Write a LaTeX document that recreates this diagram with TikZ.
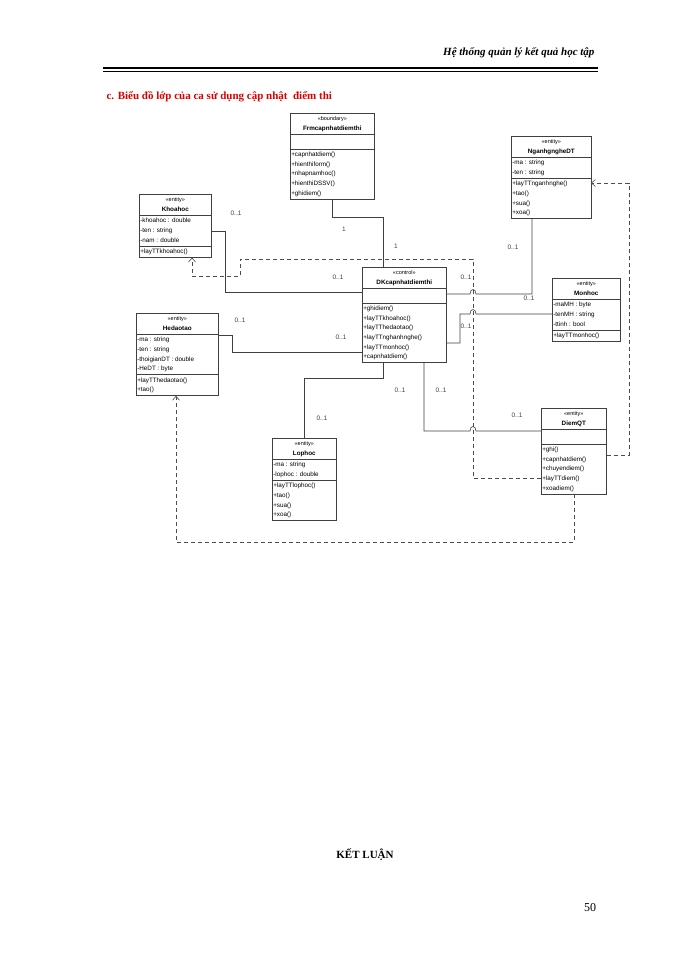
\documentclass[tikz,border=0pt]{standalone}
\usepackage{fontspec}
\setmainfont{Liberation Serif}
\newfontfamily\umlfont{Liberation Sans}
\usetikzlibrary{shapes.multipart,calc,arrows.meta}
\newcommand{\umlcc}[1]{\begin{tabular}{@{}c@{}}#1\end{tabular}}
\newcommand{\umlll}[1]{\begin{tabular}{@{}l@{}}#1\end{tabular}}
\newcommand{\umlemp}{\rule{0pt}{13pt}}
\newcommand{\stp}[1]{{\fontsize{5.5}{7}\selectfont«#1»}}
\begin{document}
\begin{tikzpicture}[x=1pt,y=-1pt,
  cls/.style={rectangle split,rectangle split parts=3,draw=black!75,line width=0.6pt,
    rectangle split part align={center,left,left},anchor=north west,
    inner xsep=1pt,inner ysep=0.6pt,font=\umlfont\fontsize{6.3}{9.6}\selectfont},
  assoc/.style={draw=black!75,line width=0.6pt},
  dep/.style={draw=black!70,line width=0.6pt,dash pattern=on 4pt off 3pt,-{Straight Barb[length=4pt,width=7pt]}},
  mult/.style={font=\umlfont\fontsize{6.5}{8}\selectfont,text=black!75,inner sep=0pt}]
\useasboundingbox (0,0) rectangle (700,960);
% page header
\node[anchor=east,font=\bfseries\itshape\fontsize{11}{13}\selectfont] (hdr) at (598,53) {Hệ thống quản lý kết quả học tập};
\draw[line width=1.6pt] (103,68) -- (598,68);
\draw[line width=0.5pt] (103,71) -- (598,71);
\node[anchor=west,text=red!85!black,font=\bfseries\fontsize{11}{13}\selectfont] (ttl) at (103,97) {c. Biểu đồ lớp của ca sử dụng cập nhật\ \ điểm thi};
\node[font=\bfseries\fontsize{11}{13}\selectfont] (kl) at (365,855) {KẾT LUẬN};
\node[font=\fontsize{12}{14}\selectfont] (pg) at (590,908) {50};

\node[cls,minimum width=84pt] (frm) at (290,113) {\umlcc{\stp{boundary}\\\textbf{Frmcapnhatdiemthi}}
 \nodepart{two}\umlemp
 \nodepart{three}\umlll{+capnhatdiem()\\+hienthiform()\\+nhapnamhoc()\\+hienthiDSSV()\\+ghidiem()}};
\node[cls,minimum width=72pt] (kh) at (139,194) {\umlcc{\stp{entity}\\\textbf{Khoahoc}}
 \nodepart{two}\umlll{-khoahoc : double\\-ten : string\\-nam : double}
 \nodepart{three}\umlll{+layTTkhoahoc()}};
\node[cls,minimum width=80pt] (ng) at (511,136) {\umlcc{\stp{entity}\\\textbf{NganhgngheDT}}
 \nodepart{two}\umlll{-ma : string\\-ten : string}
 \nodepart{three}\umlll{+layTTnganhnghe()\\+tao()\\+sua()\\+xoa()}};
\node[cls,minimum width=84pt] (dk) at (362,267) {\umlcc{\stp{control}\\\textbf{DKcapnhatdiemthi}}
 \nodepart{two}\umlemp
 \nodepart{three}\umlll{+ghidiem()\\+layTTkhoahoc()\\+layTThedaotao()\\+layTTnghanhnghe()\\+layTTmonhoc()\\+capnhatdiem()}};
\node[cls,minimum width=68pt] (mh) at (552,278) {\umlcc{\stp{entity}\\\textbf{Monhoc}}
 \nodepart{two}\umlll{-maMH : byte\\-tenMH : string\\-ttinh : bool}
 \nodepart{three}\umlll{+layTTmonhoc()}};
\node[cls,minimum width=82pt] (hd) at (136,313) {\umlcc{\stp{entity}\\\textbf{Hedaotao}}
 \nodepart{two}\umlll{-ma : string\\-ten : string\\-thoigianDT : double\\-HeDT : byte}
 \nodepart{three}\umlll{+layTThedaotao()\\+tao()}};
\node[cls,minimum width=64pt] (lh) at (272,438) {\umlcc{\stp{entity}\\\textbf{Lophoc}}
 \nodepart{two}\umlll{-ma : string\\-lophoc : double}
 \nodepart{three}\umlll{+layTTlophoc()\\+tao()\\+sua()\\+xoa()}};
\node[cls,minimum width=65pt] (dq) at (541,408) {\umlcc{\stp{entity}\\\textbf{DiemQT}}
 \nodepart{two}\umlemp
 \nodepart{three}\umlll{+ghi()\\+capnhatdiem()\\+chuyendiem()\\+layTTdiem()\\+xoadiem()}};

% coordinates
\coordinate (dkN) at ($(dk.north west)+(21,0)$);
\coordinate (dkB1) at ($(dk.south west)+(21,0)$);
\coordinate (dkB2) at ($(dk.south west)+(62,0)$);
\coordinate (khR) at ($(kh.north east)+(0,37)$);
\coordinate (hdR) at ($(hd.north east)+(0,22)$);
\coordinate (mhL) at ($(mh.north west)+(0,36)$);
\coordinate (ngB) at ($(ng.south west)+(21,0)$);
\coordinate (dqL) at ($(dq.north west)+(0,23)$);
\coordinate (dqL2) at ($(dq.north west)+(0,70)$);
\coordinate (dqR) at ($(dq.north east)+(0,47)$);
\coordinate (dqB) at ($(dq.south west)+(33,0)$);
\coordinate (ngR) at ($(ng.north west)+(80,47)$);
\coordinate (khB) at ($(kh.south west)+(53,0)$);
\coordinate (hdB) at ($(hd.south west)+(40,0)$);

% solid associations
\draw[assoc] (frm.south) -- ++(0,18) -| (dkN);
\draw[assoc] (khR) -- ++(14,0) |- (dk.west |- 0,292);
\draw[assoc] (hdR) -- ++(14,0) |- (dk.west |- 0,352);
\draw[assoc] (ngB) |- (476,294) .. controls (476,288) and (470,288) .. (470,294) -- (dk.east |- 0,294);
\draw[assoc] (mhL) -- (476,314) .. controls (476,308) and (470,308) .. (470,314) -- (460,314) |- (dk.east |- 0,343);
\draw[assoc] (dkB1) -- ++(0,15) -| ($(lh.north west)+(32,0)$);
\draw[assoc] (dkB2) |- (470,431) .. controls (470,425) and (476,425) .. (476,431) -- (dqL);

% dependencies
\draw[dep] (dqB) |- (176,542) -- (hdB);
\draw[dep] (dqL2) -- (473,478) -- (473,259) -- (240,259) -- (240,276) -- (192,276) -- (khB);
\draw[dep] (dqR) -- (629,455) |- (ngR);

% multiplicities
\node[mult] (m1) at (344,229) {1};
\node[mult] (m2) at (396,246) {1};
\node[mult] (m3) at (236,213) {0..1};
\node[mult] (m4) at (338,277) {0..1};
\node[mult] (m5) at (513,247) {0..1};
\node[mult] (m6) at (529,298) {0..1};
\node[mult] (m7) at (466,277) {0..1};
\node[mult] (m8) at (466,326) {0..1};
\node[mult] (m9) at (240,320) {0..1};
\node[mult] (m10) at (341,337) {0..1};
\node[mult] (m11) at (400,390) {0..1};
\node[mult] (m12) at (322,418) {0..1};
\node[mult] (m13) at (441,390) {0..1};
\node[mult] (m14) at (517,415) {0..1};
\end{tikzpicture}
\end{document}
